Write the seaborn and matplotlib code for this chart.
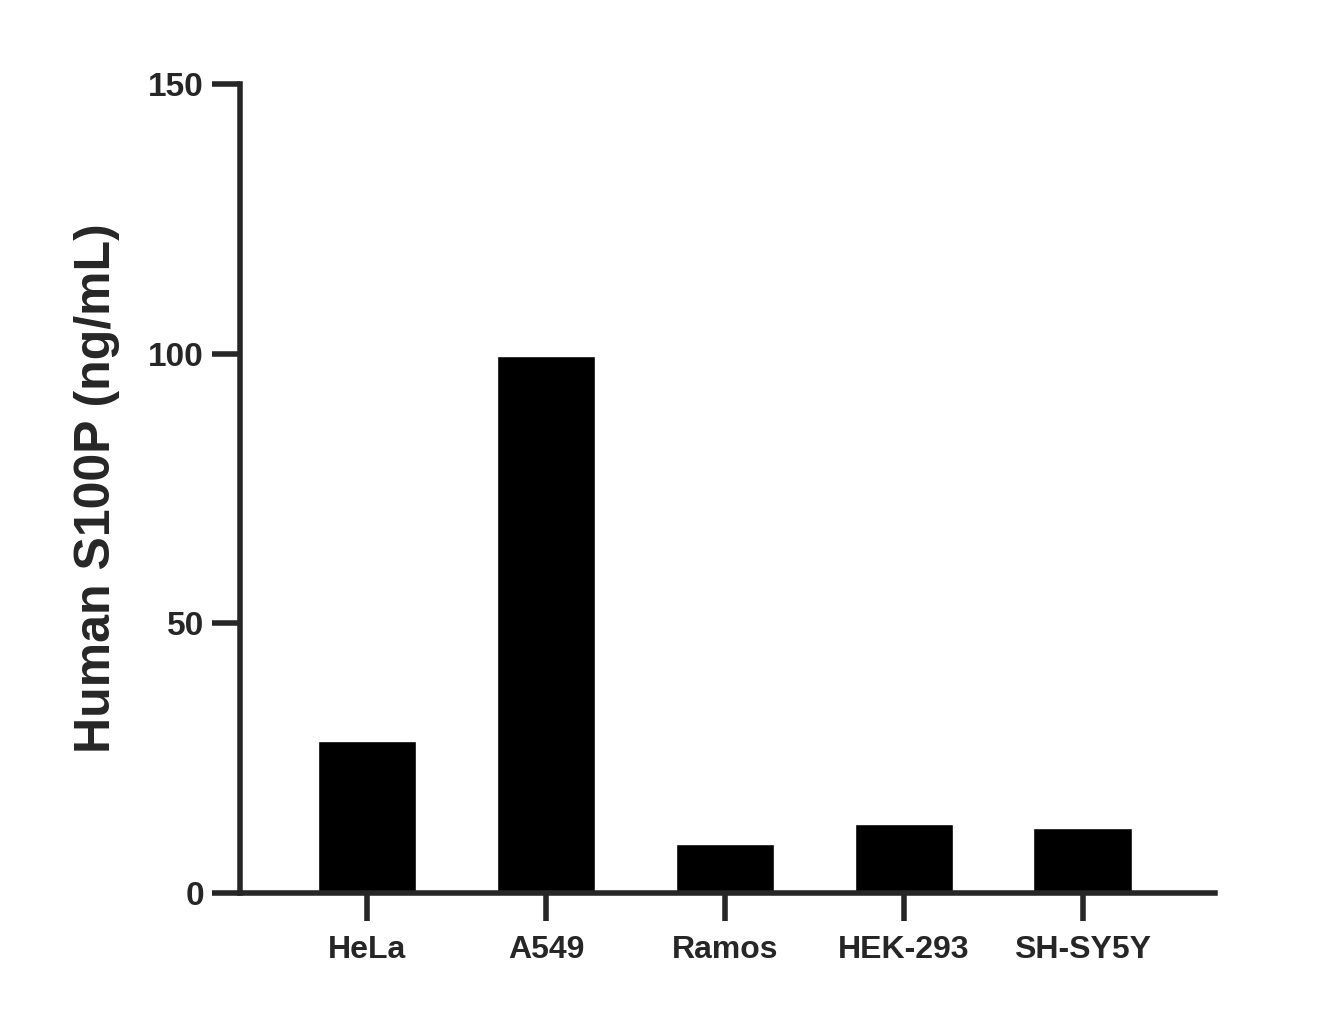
import matplotlib
matplotlib.use("Agg")
import matplotlib.pyplot as plt
import seaborn as sns
import pandas as pd

categories = ["HeLa", "A549", "Ramos", "HEK-293", "SH-SY5Y"]
values = [28.2, 99.6, 9.1, 12.8, 12.1]

sns.set_style("ticks")
plt.rcParams['font.family'] = ['Liberation Sans', 'DejaVu Sans']

df = pd.DataFrame({"cell": categories, "val": values})
fig = plt.figure(figsize=(13.36, 10.13), dpi=100)
ax = fig.add_axes([240/1336, 1 - 893/1013, (1215-240)/1336, (893-84)/1013])
sns.barplot(data=df, x="cell", y="val", color="black", width=0.55, ax=ax, saturation=1)
ax.set_xlim(-0.71, 4.74)
ax.set_ylim(0, 150)
ax.set_yticks([0, 50, 100, 150])
for s in ["top", "right"]:
    ax.spines[s].set_visible(False)
for s in ["left", "bottom"]:
    ax.spines[s].set_linewidth(4)
ax.tick_params(width=4, length=20, labelsize=24, pad=6)
for lab in ax.get_xticklabels() + ax.get_yticklabels():
    lab.set_fontweight("bold")
ax.tick_params(axis="x", labelsize=23, pad=10)
ax.set_xlabel("")
ax.set_ylabel("Human S100P (ng/mL)", fontsize=36, fontweight="bold", labelpad=20)
fig.savefig("out.png", dpi=100)
